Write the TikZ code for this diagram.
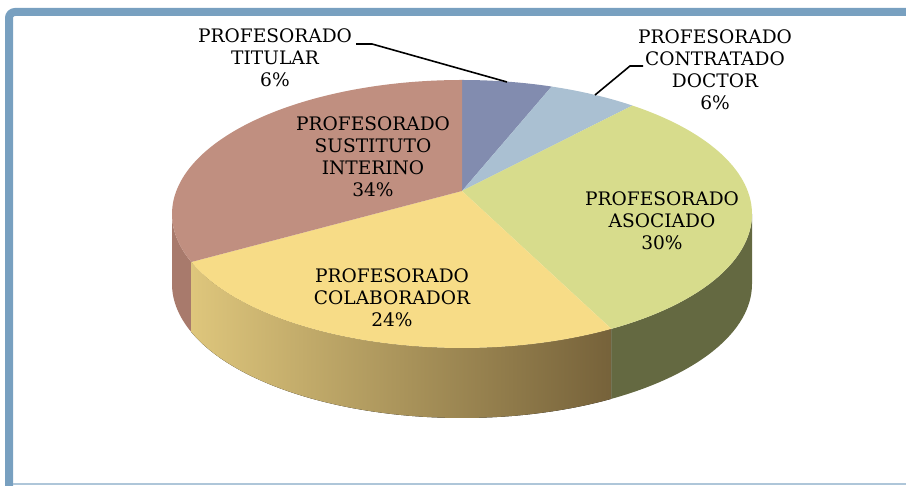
\documentclass[tikz,border=0pt]{standalone}
\usepackage{fontspec}
\setmainfont{DejaVu Serif}
\definecolor{marco}{RGB}{120,160,192}
\definecolor{titular}{RGB}{130,140,175}
\definecolor{contratado}{RGB}{170,192,210}
\definecolor{asociado}{RGB}{215,220,140}
\definecolor{asociadoLado}{RGB}{100,105,65}
\definecolor{colaborador}{RGB}{247,220,135}
\definecolor{colabClaro}{RGB}{222,198,124}
\definecolor{colabOscuro}{RGB}{118,98,58}
\definecolor{sustituto}{RGB}{192,143,128}
\definecolor{sustitutoLado}{RGB}{168,122,108}
\begin{document}
\begin{tikzpicture}[x=0.5pt, y=0.5pt,
    rotulo/.style={align=center, inner sep=0pt, font=\fontsize{9.3}{11}\selectfont},
    guia/.style={black, line width=0.8pt}]
    \useasboundingbox (0,0) rectangle (906,486);
    \fill[white] (0,0) rectangle (906,486);

    % Marco
    \draw[marco, line width=4pt, rounded corners=3pt] (9,0) -- (9,474) -- (906,474);
    \draw[marco!60, line width=0.6pt] (13,2) -- (906,2);

    \begin{scope}[shift={(462,272)}]
        % Lados del cilindro
        \fill[sustitutoLado] (180:290 and 134) arc[start angle=180, end angle=201, x radius=290, y radius=134]
            -- ++(0,-70) arc[start angle=201, end angle=180, x radius=290, y radius=134] -- cycle;
        \fill[left color=colabClaro, right color=colabOscuro] (201:290 and 134) arc[start angle=201, end angle=301, x radius=290, y radius=134]
            -- ++(0,-70) arc[start angle=301, end angle=201, x radius=290, y radius=134] -- cycle;
        \fill[asociadoLado] (301:290 and 134) arc[start angle=301, end angle=360, x radius=290, y radius=134]
            -- ++(0,-70) arc[start angle=360, end angle=301, x radius=290, y radius=134] -- cycle;

        % Sectores (cara superior)
        \coordinate (vertice) at (0,23);
        \fill[titular] (vertice) -- (72:290 and 134) arc[start angle=72, end angle=90, x radius=290, y radius=134] -- cycle;
        \fill[contratado] (vertice) -- (54:290 and 134) arc[start angle=54, end angle=72, x radius=290, y radius=134] -- cycle;
        \fill[asociado] (vertice) -- (-59:290 and 134) arc[start angle=-59, end angle=54, x radius=290, y radius=134] -- cycle;
        \fill[colaborador] (vertice) -- (201:290 and 134) arc[start angle=201, end angle=301, x radius=290, y radius=134] -- cycle;
        \fill[sustituto] (vertice) -- (90:290 and 134) arc[start angle=90, end angle=201, x radius=290, y radius=134] -- cycle;
    \end{scope}

    % Rotulos
    \node[rotulo] (lblTitular) at (275,428) {PROFESORADO\\TITULAR\\6\%};
    \node[rotulo] (lblContratado) at (715,416) {PROFESORADO\\CONTRATADO\\DOCTOR\\6\%};
    \node[rotulo] (lblAsociado) at (662,265) {PROFESORADO\\ASOCIADO\\30\%};
    \node[rotulo] (lblSustituto) at (373,329) {PROFESORADO\\SUSTITUTO\\INTERINO\\34\%};
    \node[rotulo] (lblColaborador) at (392,188) {PROFESORADO\\COLABORADOR\\24\%};

    % Lineas guia
    \coordinate (titIni) at (356,442);
    \coordinate (titCodo) at (372,442);
    \coordinate (titPunta) at (507,404);
    \coordinate (conIni) at (643,420);
    \coordinate (conCodo) at (630,420);
    \coordinate (conPunta) at (595,391);
    \draw[guia] (titIni) -- (titCodo) -- (titPunta);
    \draw[guia] (conIni) -- (conCodo) -- (conPunta);
\end{tikzpicture}
\end{document}
